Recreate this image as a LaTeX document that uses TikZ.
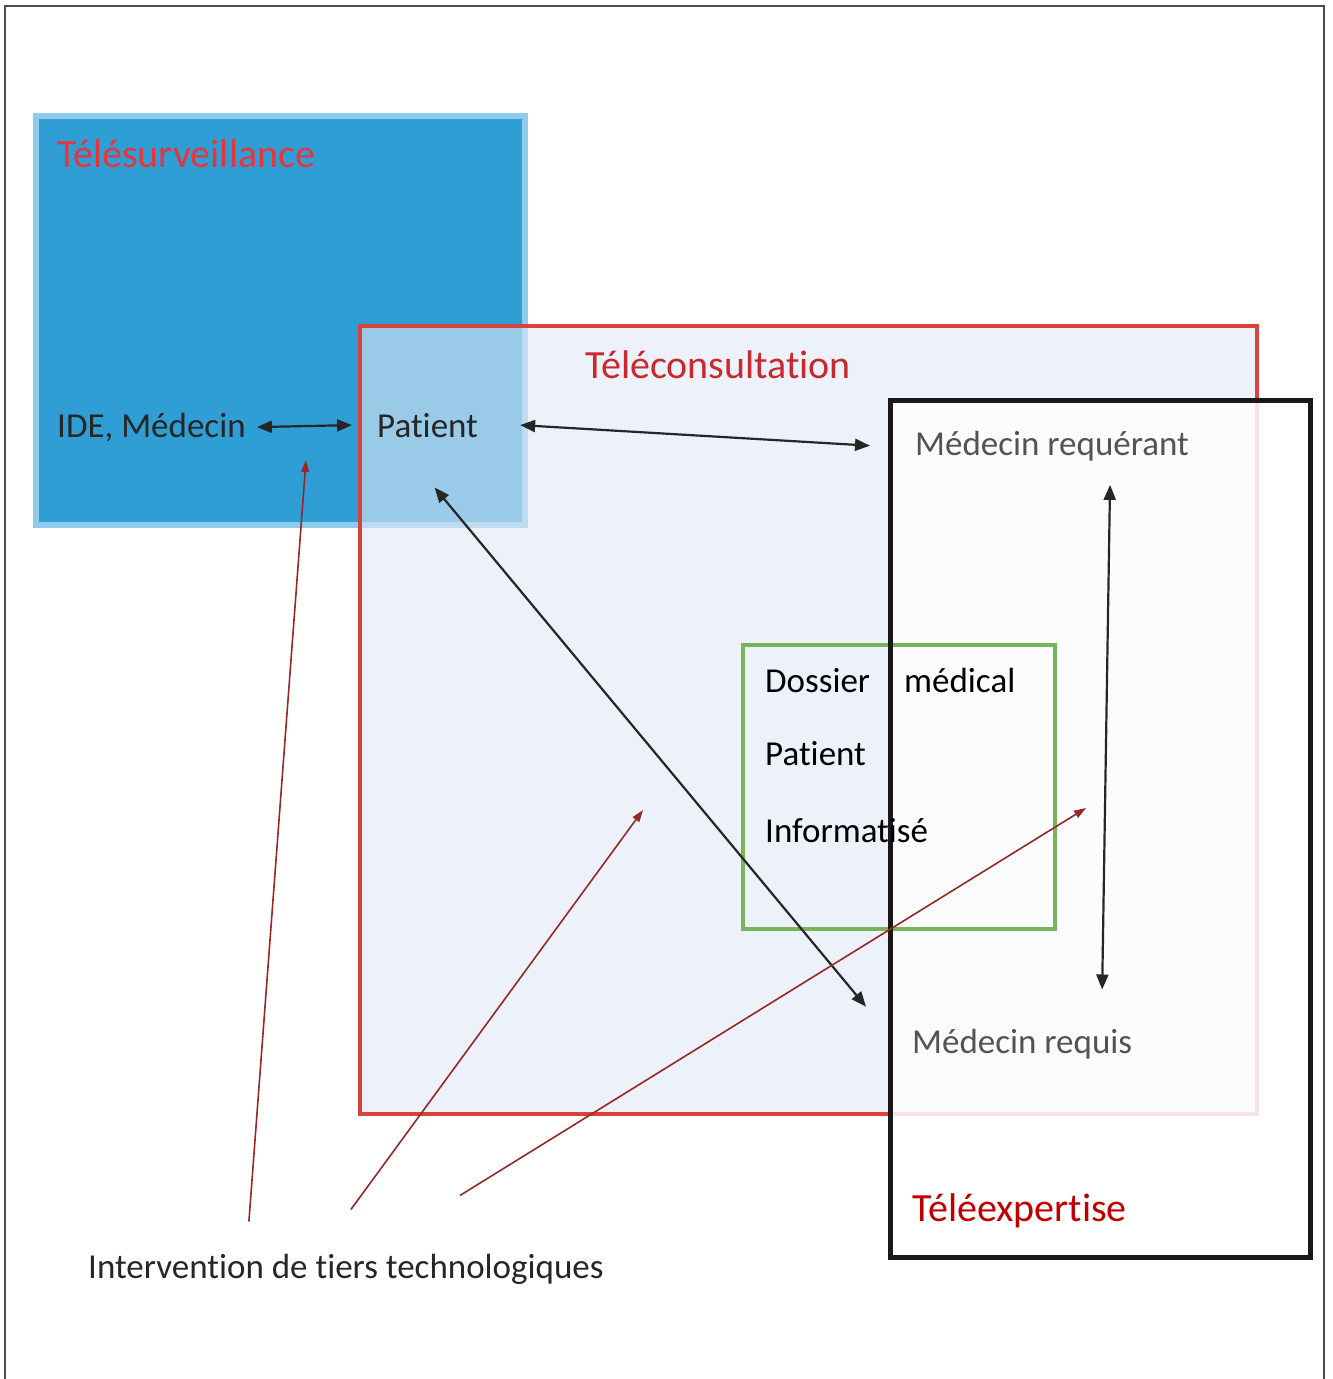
\documentclass[tikz,border=0pt]{standalone}
\usepackage{fontspec}
\setmainfont{Carlito}[RawFeature={-liga;-clig;-calt;-dlig}]
\usetikzlibrary{arrows.meta,positioning}
\definecolor{survblue}{RGB}{47,158,212}
\definecolor{survedge}{RGB}{143,203,234}
\definecolor{consred}{RGB}{217,65,60}
\definecolor{consfill}{RGB}{225,232,245}
\definecolor{dosgreen}{RGB}{122,180,88}
\definecolor{survred}{RGB}{232,52,58}
\definecolor{consttl}{RGB}{200,40,46}
\definecolor{expred}{RGB}{192,0,0}
\definecolor{arrowred}{RGB}{150,40,40}
\definecolor{softgray}{RGB}{80,86,76}

\begin{document}
\begin{tikzpicture}[x=1pt, y=-1pt,
        txt/.style={anchor=base west, inner sep=0pt, font=\fontsize{35}{41}\selectfont},
        ttl/.style={txt, font=\fontsize{40}{47}\selectfont},
        biarrow/.style={{Triangle[length=15pt,width=12pt]}-{Triangle[length=15pt,width=12pt]}, line width=2.2pt, black!85},
        techarrow/.style={-{Triangle[length=12pt,width=8pt]}, line width=1.6pt, arrowred}]
        \useasboundingbox (0,0) rectangle (1333,1379);
        \draw[line width=1.5pt, black!70] (5,1400) -- (5,6) -- (1324,6) -- (1324,1400);

        % les cadres
        \draw[survedge, line width=6pt, fill=survblue] (36,116) rectangle (525,525);
        \fill[consfill, fill opacity=0.6] (360,326) rectangle (1257,1114);
        \draw[consred, line width=4pt] (360,326) rectangle (1257,1114);
        \fill[white, fill opacity=0.85] (890,400) rectangle (1310,1257);
        \draw[dosgreen, line width=4pt] (743,645) rectangle (1055,929);
        \draw[black!90, line width=5pt] (890,400) rectangle (1310,1257);

        \node[ttl, text=survred](surv) at (57,167) {Télésurveillance};
        \node[ttl, text=consttl](cons) at (585,378) {Téléconsultation};
        \node[ttl, text=expred](expe) at (912,1221) {Téléexpertise};

        \node[txt, text=black!85](ide) at (57,437) {IDE, Médecin};
        \node[txt, text=black!85](pat) at (377,437) {Patient};
        \node[txt, text=softgray](req) at (915,455) {Médecin requérant};
        \node[txt, text=softgray](requis) at (912,1053) {Médecin requis};

        \node[txt](dos) at (765,692) {Dossier};
        \node[txt](med) at (904,692) {médical};
        \node[txt](patdos) at (765,765) {Patient};
        \node[txt](info) at (765,842) {Informatisé};

        \node[txt, text=black!85](tiers) at (88,1278) {Intervention de tiers technologiques};

        \draw[biarrow] ([xshift=11pt]ide.east) -- ([xshift=-25pt]pat.west);
        \draw[biarrow] ([xshift=42pt]pat.east) -- ([xshift=-45pt]req.west);
        \draw[biarrow] ([xshift=7pt,yshift=-50pt]pat.south) -- ([xshift=-46pt,yshift=37pt]requis.west);
        \draw[biarrow] ([xshift=58pt,yshift=-24pt]req.south) -- ([xshift=80pt,yshift=39pt]requis.north);

        %\draw[techarrow] (tiers) -- (surv);
        \coordinate (hsurv) at (306,460);
        \coordinate (hcons) at (643,810);
        \coordinate (hexpe) at (1086,808);
        \draw[techarrow] ([xshift=-97pt,yshift=32pt]tiers.north) -- (hsurv);
        \draw[techarrow] ([xshift=5pt,yshift=44pt]tiers.north) -- (hcons);
        \draw[techarrow] ([xshift=114pt,yshift=58pt]tiers.north) -- (hexpe);
    \end{tikzpicture}
\end{document}
